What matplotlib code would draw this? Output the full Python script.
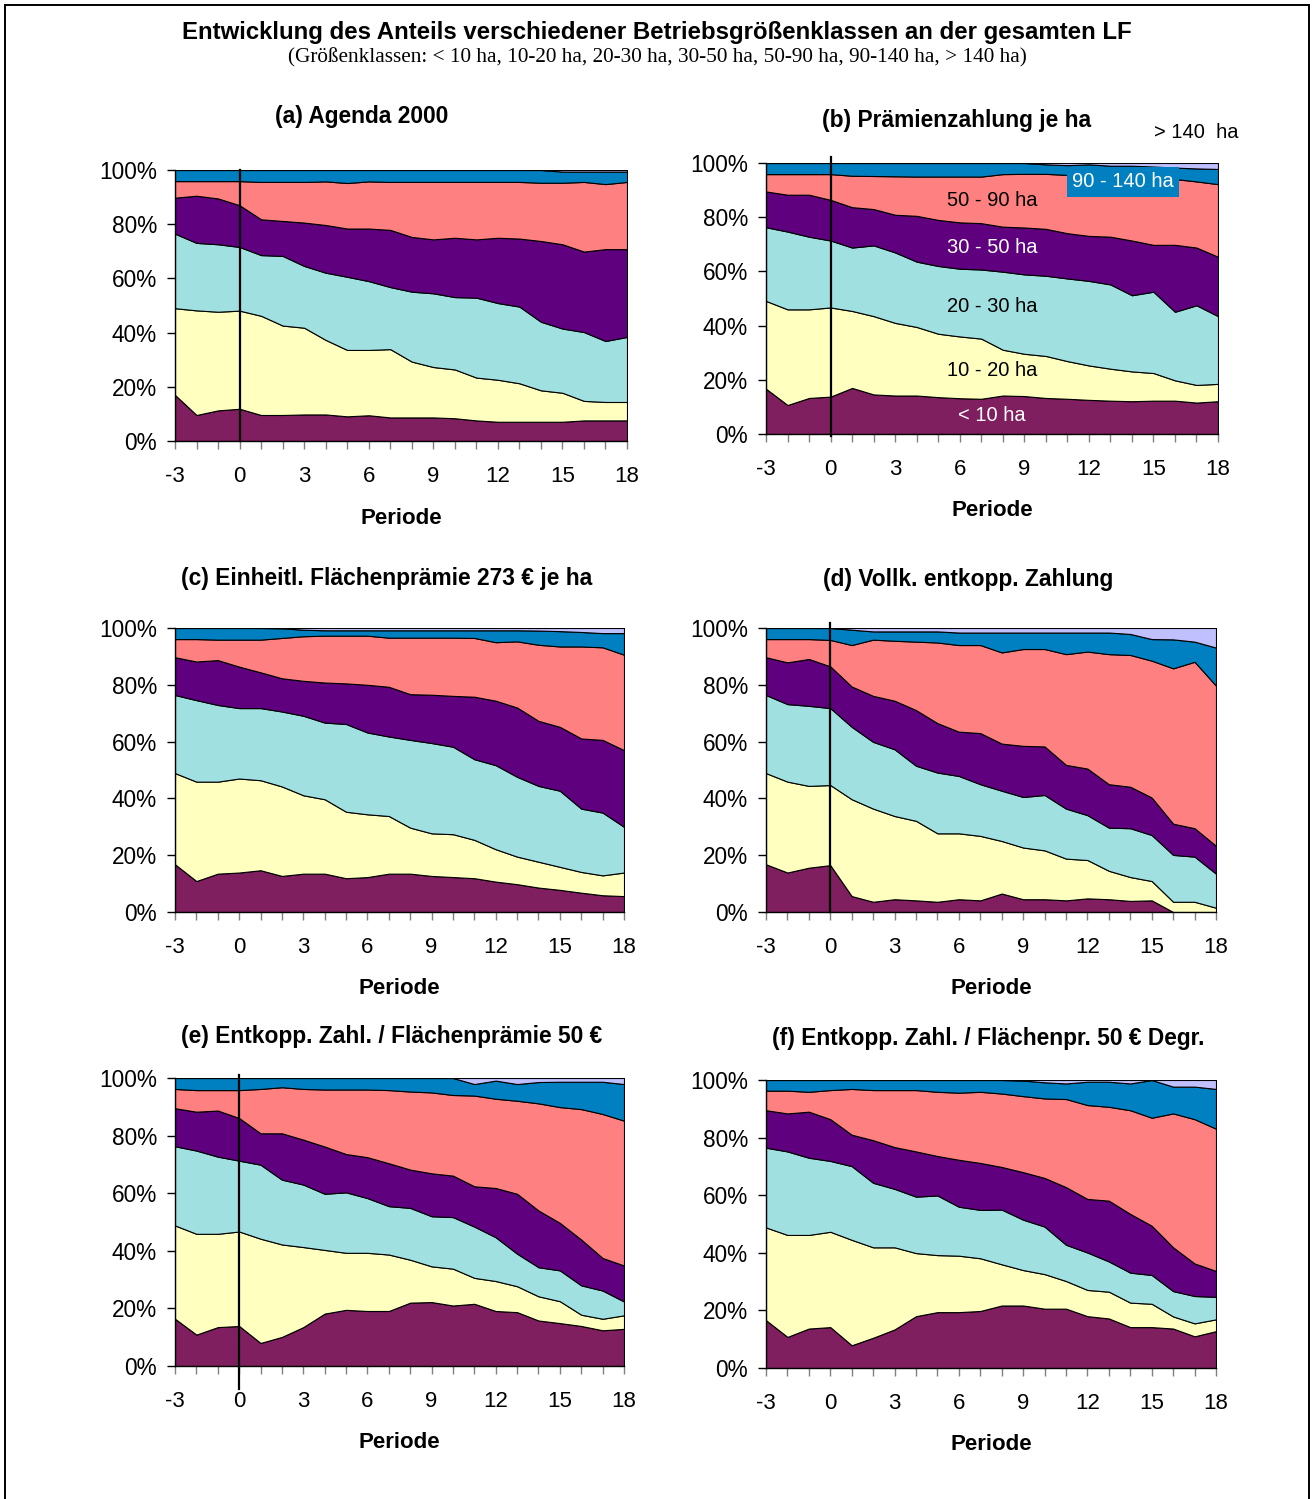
import matplotlib
matplotlib.use("Agg")
import matplotlib.pyplot as plt
import numpy as np
from matplotlib.patches import Rectangle

plt.rcParams['font.family'] = ['Liberation Sans', 'DejaVu Sans']

W, H = 1313, 1499
PERIODS = list(range(-3, 19))
CLASSES = ['< 10 ha', '10 - 20 ha', '20 - 30 ha', '30 - 50 ha',
           '50 - 90 ha', '90 - 140 ha', '> 140 ha']
COLORS = ['#7F1F5F', '#FFFFC0', '#A0E0E0', '#5F007F',
          '#FF8080', '#0080C0', '#C0C0FF']
Y_TICKS = [0, 20, 40, 60, 80, 100]
X_LABELS = [-3, 0, 3, 6, 9, 12, 15, 18]

# Cumulative shares (%) of total LF up to the upper bound of each class
# (a) Agenda 2000
A_10 = [17.0, 9.6, 11.3, 11.9, 9.6, 9.6, 9.8, 9.8, 9.1, 9.5, 8.7, 8.7, 8.7, 8.4, 7.6, 7.1, 7.1, 7.1, 7.1, 7.6, 7.6, 7.6]
A_20 = [49.0, 48.2, 47.7, 48.1, 46.2, 42.6, 41.8, 37.3, 33.6, 33.6, 33.9, 29.3, 27.3, 26.4, 23.4, 22.6, 21.3, 18.7, 17.8, 14.8, 14.4, 14.4]
A_30 = [76.5, 73.1, 72.6, 71.6, 68.6, 68.3, 64.6, 62.1, 60.6, 59.0, 56.8, 55.1, 54.5, 53.1, 52.9, 50.9, 49.6, 44.0, 41.5, 40.2, 36.9, 38.4]
A_50 = [89.8, 90.5, 89.5, 87.0, 81.8, 81.2, 80.6, 79.7, 78.4, 78.4, 77.9, 75.3, 74.4, 75.0, 74.4, 75.0, 74.7, 73.8, 72.6, 69.9, 70.8, 70.8]
A_90 = [95.9, 95.9, 95.9, 95.9, 95.6, 95.6, 95.6, 95.8, 95.2, 95.8, 95.6, 95.6, 95.6, 95.6, 95.6, 95.6, 95.6, 95.3, 95.3, 95.6, 94.8, 95.6]
A_140 = [100, 100, 100, 100, 100, 100, 100, 100, 100, 100, 100, 100, 100, 100, 100, 100, 100, 100, 99.4, 99.4, 99.4, 99.4]

# (b) Praemienzahlung je ha
B_10 = [16.7, 10.7, 13.3, 13.8, 17.0, 14.6, 14.2, 14.2, 13.6, 13.2, 13.0, 14.2, 14.0, 13.3, 13.0, 12.6, 12.3, 12.1, 12.3, 12.3, 11.6, 12.1]
B_20 = [49.1, 46.0, 46.0, 46.7, 45.4, 43.5, 41.0, 39.5, 37.0, 36.0, 35.2, 31.1, 29.6, 28.8, 26.9, 25.3, 24.1, 23.1, 22.5, 19.8, 18.1, 18.5]
B_30 = [76.3, 74.7, 72.8, 71.4, 68.8, 69.6, 67.0, 63.6, 62.0, 61.0, 60.7, 59.9, 58.9, 58.4, 57.4, 56.5, 55.2, 51.2, 52.5, 45.1, 47.5, 43.5]
B_50 = [89.5, 88.3, 88.3, 86.4, 83.7, 83.0, 80.9, 80.5, 79.0, 78.1, 77.8, 76.5, 76.2, 75.7, 74.1, 73.1, 72.8, 71.4, 69.8, 69.8, 68.8, 65.4]
B_90 = [95.9, 95.9, 95.9, 95.9, 95.3, 95.2, 95.1, 95.0, 95.0, 95.0, 95.0, 95.9, 96.0, 96.0, 95.6, 95.3, 95.0, 94.7, 94.4, 94.1, 93.2, 92.2]
B_140 = [100, 100, 100, 100, 100, 100, 100, 100, 100, 100, 100, 100, 100, 99.5, 99.2, 99.5, 99.0, 99.0, 98.7, 98.3, 98.0, 97.8]

# (c) Einheitl. Flaechenpraemie 273 EUR je ha
C_10 = [16.8, 10.9, 13.5, 13.9, 14.7, 12.7, 13.5, 13.5, 11.9, 12.3, 13.5, 13.5, 12.7, 12.3, 11.9, 10.7, 9.8, 8.6, 7.8, 6.8, 5.9, 5.6]
C_20 = [48.9, 45.9, 45.9, 47.0, 46.4, 44.2, 41.1, 39.7, 35.3, 34.4, 33.8, 29.7, 27.7, 27.4, 25.4, 22.1, 19.5, 17.7, 15.9, 14.1, 12.9, 13.9]
C_30 = [76.4, 74.6, 72.9, 71.8, 71.8, 70.6, 69.1, 66.7, 66.2, 63.2, 61.8, 60.6, 59.5, 58.2, 53.8, 51.7, 47.6, 44.4, 42.7, 36.4, 35.0, 30.0]
C_50 = [89.7, 88.2, 88.7, 86.4, 84.4, 82.3, 81.4, 80.8, 80.5, 80.0, 79.3, 76.7, 76.5, 76.1, 75.8, 74.4, 72.0, 67.3, 65.2, 61.1, 60.6, 57.0]
C_90 = [96.1, 96.1, 95.9, 95.9, 95.9, 96.5, 97.1, 97.3, 97.3, 97.3, 96.6, 96.6, 96.6, 96.6, 96.5, 95.0, 95.3, 94.1, 93.5, 93.5, 93.2, 90.6]
C_140 = [100, 100, 100, 100, 100, 99.9, 99.4, 99.2, 99.2, 99.2, 99.2, 99.2, 99.2, 99.2, 99.2, 99.2, 99.2, 99.1, 98.9, 98.6, 98.2, 98.2]

# (d) Vollk. entkopp. Zahlung
D_10 = [16.8, 13.9, 15.6, 16.5, 5.6, 3.6, 4.5, 4.1, 3.6, 4.5, 4.1, 6.5, 4.5, 4.5, 4.1, 4.8, 4.5, 3.9, 4.1, 0.0, 0.0, 0.0]
D_20 = [48.9, 45.9, 44.4, 44.7, 39.7, 36.4, 33.8, 32.1, 27.7, 27.7, 26.8, 25.0, 22.7, 21.7, 18.8, 18.3, 14.5, 12.3, 10.9, 3.6, 3.6, 1.5]
D_30 = [76.4, 73.2, 72.6, 71.8, 65.2, 59.9, 57.3, 51.5, 49.1, 47.9, 45.0, 42.7, 40.5, 41.2, 36.4, 34.1, 29.7, 29.5, 27.1, 20.1, 19.5, 13.5]
D_50 = [89.7, 87.9, 89.1, 86.5, 79.4, 76.1, 74.4, 71.1, 66.5, 63.5, 63.0, 59.3, 58.5, 58.3, 51.8, 50.5, 45.0, 44.1, 40.3, 31.1, 29.5, 23.3]
D_90 = [96.1, 96.1, 96.1, 95.8, 94.0, 95.9, 95.5, 95.2, 94.9, 94.0, 94.0, 91.4, 92.6, 92.6, 90.8, 91.7, 90.8, 90.5, 88.5, 85.8, 88.1, 79.7]
D_140 = [100, 100, 100, 100, 99.4, 98.8, 98.8, 98.8, 98.8, 98.4, 98.4, 98.4, 98.4, 98.4, 98.4, 98.4, 98.4, 97.9, 96.1, 96.0, 95.2, 93.1]

# (e) Entkopp. Zahl. / Flaechenpraemie 50 EUR
E_10 = [16.4, 10.9, 13.5, 13.9, 8.0, 10.1, 13.5, 18.2, 19.5, 19.1, 19.1, 22.0, 22.2, 21.0, 21.6, 19.1, 18.7, 15.8, 14.9, 13.9, 12.4, 12.9]
E_20 = [48.8, 45.9, 45.9, 46.7, 44.2, 42.2, 41.3, 40.3, 39.3, 39.3, 38.7, 36.9, 34.6, 33.8, 30.6, 29.5, 27.7, 24.2, 22.5, 17.8, 16.4, 17.6]
E_30 = [76.3, 74.8, 72.7, 71.3, 69.9, 64.7, 63.0, 59.8, 60.3, 58.3, 55.5, 54.9, 52.0, 51.7, 48.4, 44.7, 39.0, 34.3, 33.2, 28.0, 26.2, 22.4]
E_50 = [89.5, 88.3, 88.7, 86.1, 80.8, 80.8, 78.6, 76.2, 73.6, 72.5, 70.4, 68.2, 66.9, 66.1, 62.4, 61.8, 59.8, 54.0, 49.7, 43.9, 37.5, 34.9]
E_90 = [96.2, 95.8, 95.8, 95.8, 96.2, 96.8, 96.2, 96.0, 96.0, 96.0, 95.8, 95.3, 95.0, 94.1, 93.9, 92.8, 92.1, 91.2, 89.9, 89.2, 87.5, 85.2]
E_140 = [100, 100, 100, 100, 100, 100, 100, 100, 100, 100, 100, 100, 100, 100, 97.9, 99.1, 97.9, 98.6, 98.7, 98.7, 98.7, 97.9]

# (f) Entkopp. Zahl. / Flaechenpr. 50 EUR Degr.
F_10 = [16.6, 10.8, 13.7, 14.2, 7.9, 10.5, 13.4, 18.0, 19.4, 19.4, 19.8, 21.7, 21.7, 20.6, 20.6, 18.0, 17.2, 14.2, 14.2, 13.7, 11.0, 12.8]
F_20 = [48.8, 46.2, 46.2, 47.3, 44.5, 41.9, 41.9, 39.9, 39.2, 39.0, 38.1, 36.0, 34.0, 32.6, 30.2, 27.1, 26.5, 22.7, 22.3, 17.9, 15.5, 16.9]
F_30 = [76.5, 75.2, 73.0, 71.9, 70.1, 64.3, 62.2, 59.5, 59.9, 56.0, 54.9, 55.0, 51.5, 49.1, 42.8, 40.1, 37.0, 33.1, 32.3, 26.7, 25.0, 24.7]
F_50 = [89.5, 88.4, 89.0, 86.4, 81.0, 79.1, 76.7, 75.2, 73.6, 72.3, 71.2, 69.8, 68.0, 66.0, 62.8, 58.7, 58.1, 53.5, 49.4, 41.9, 36.3, 33.7]
F_90 = [96.3, 96.3, 95.9, 96.5, 96.9, 96.5, 96.5, 96.5, 95.9, 95.6, 95.9, 95.3, 94.4, 93.6, 93.4, 91.3, 90.7, 89.5, 86.9, 88.4, 86.4, 83.1]
F_140 = [100, 100, 100, 100, 100, 100, 100, 100, 100, 100, 100, 100, 99.8, 99.2, 98.8, 99.4, 99.4, 98.8, 100, 97.7, 97.7, 96.9]

TITLE = "Entwicklung des Anteils verschiedener Betriebsgrößenklassen an der gesamten LF"
SUBTITLE = "(Größenklassen: < 10 ha, 10-20 ha, 20-30 ha, 30-50 ha, 50-90 ha, 90-140 ha, > 140 ha)"

# title, cumulative series, axes box in px (left, top, right, bottom),
# title centre in px, marker line (ymin, ymax) or None
PANELS = [
    ("(a) Agenda 2000", [A_10, A_20, A_30, A_50, A_90, A_140], (175, 170, 627, 441), (362, 117), (0.0, 1.0)),
    ("(b) Prämienzahlung je ha", [B_10, B_20, B_30, B_50, B_90, B_140], (766, 163, 1218, 434), (957, 120), (-0.008, 1.022)),
    ("(c) Einheitl. Flächenprämie 273 € je ha", [C_10, C_20, C_30, C_50, C_90, C_140], (175, 628, 624, 912), (387, 579), None),
    ("(d) Vollk. entkopp. Zahlung", [D_10, D_20, D_30, D_50, D_90, D_140], (766, 628, 1216, 912), (968, 580), (0.0, 1.018)),
    ("(e) Entkopp. Zahl. / Flächenprämie 50 €", [E_10, E_20, E_30, E_50, E_90, E_140], (175, 1078, 624, 1366), (392, 1036), (-0.08, 1.01)),
    ("(f) Entkopp. Zahl. / Flächenpr. 50 € Degr.", [F_10, F_20, F_30, F_50, F_90, F_140], (766, 1080, 1216, 1368), (988, 1038), None),
]

fig = plt.figure(figsize=(W / 100, H / 100), dpi=100)
fig.patch.set_facecolor('white')

# outer frame
fig.patches.append(Rectangle((5 / W, -0.01), (1309 - 5) / W, 1 - 5 / H + 0.01,
                             transform=fig.transFigure, fill=False,
                             edgecolor='black', linewidth=1.4))

fig.text(657 / W, 1 - 32 / H, TITLE, ha='center', va='center',
         fontsize=17.3, fontweight='bold')
fig.text(657 / W, 1 - 58 / H, SUBTITLE, ha='center', va='center',
         fontsize=15.3, family=['Liberation Serif', 'DejaVu Serif'])

for title, cum, (l, t, r, b), (tx, ty), vline in PANELS:
    ax = fig.add_axes([l / W, 1 - b / H, (r - l) / W, (b - t) / H])
    bounds = [np.zeros(len(PERIODS))] + [np.array(c, float) for c in cum] + [np.full(len(PERIODS), 100.0)]
    layers = [bounds[i + 1] - bounds[i] for i in range(len(CLASSES))]
    ax.stackplot(PERIODS, layers, colors=COLORS, edgecolor='black', linewidth=0.8)
    ax.set_xlim(-3, 18)
    ax.set_ylim(0, 100)
    ax.set_xticks(PERIODS)
    ax.set_xticklabels([str(p) if p in X_LABELS else '' for p in PERIODS])
    ax.set_yticks(Y_TICKS)
    ax.set_yticklabels([f"{v}%" for v in Y_TICKS])
    ax.tick_params(axis='x', direction='out', length=6, width=1, color='#808080',
                   labelsize=16, pad=12)
    ax.tick_params(axis='y', direction='out', length=6, width=1, color='black',
                   labelsize=16.3, pad=7)
    for s in ('top', 'right'):
        ax.spines[s].set_visible(False)
    for s in ('left', 'bottom'):
        ax.spines[s].set_color('black')
        ax.spines[s].set_linewidth(1.0)
    if vline is not None:
        ax.axvline(0, ymin=vline[0], ymax=vline[1], color='black',
                   linewidth=1.6, clip_on=False, zorder=5)
    cx = (l + r) / 2
    fig.text(tx / W, 1 - ty / H, title, ha='center', va='center',
             fontsize=16.4, fontweight='bold')
    fig.text(cx / W, 1 - (b + 77) / H, "Periode", ha='center', va='center',
             fontsize=16, fontweight='bold')

    if title.startswith("(b)"):
        lab_x = 7.5
        ax.text(lab_x, 86.0, CLASSES[4], ha='center', va='center', fontsize=14.5, color='black')
        ax.text(lab_x, 69.0, CLASSES[3], ha='center', va='center', fontsize=14.5, color='white')
        ax.text(lab_x, 46.9, CLASSES[2], ha='center', va='center', fontsize=14.5, color='black')
        ax.text(lab_x, 23.6, CLASSES[1], ha='center', va='center', fontsize=14.5, color='black')
        ax.text(lab_x, 7.0, CLASSES[0], ha='center', va='center', fontsize=14.5, color='white')
        ax.text(13.6, 93.0, CLASSES[5], ha='center', va='center', fontsize=14.5, color='white',
                bbox=dict(boxstyle='square,pad=0.25', facecolor=COLORS[5], edgecolor='none'),
                zorder=6)
        ax.text(17.0, 111.1, "> 140  ha", ha='center', va='center', fontsize=14.5,
                color='black', clip_on=False)

fig.savefig("out.png", dpi=100, facecolor='white')
